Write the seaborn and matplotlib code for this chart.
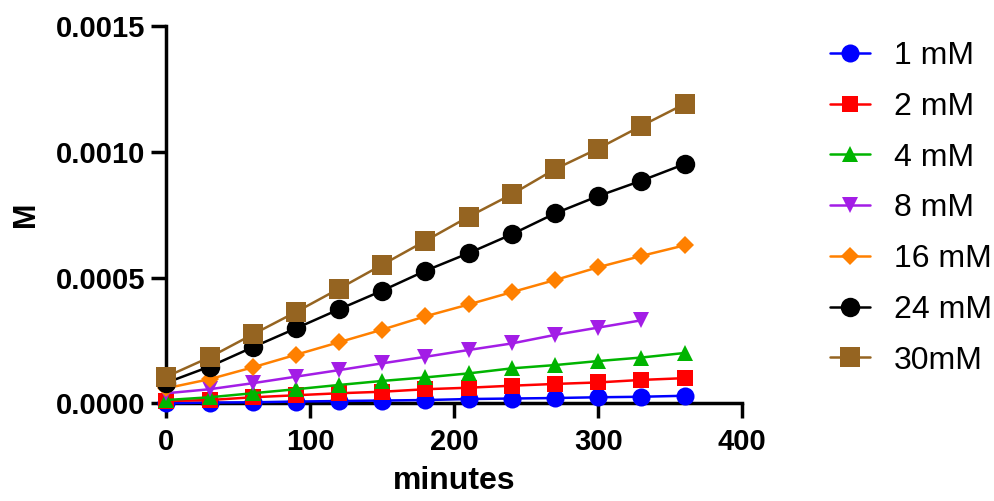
import matplotlib
matplotlib.use("Agg")
import matplotlib.pyplot as plt
import seaborn as sns
import pandas as pd
import numpy as np
from matplotlib.ticker import FormatStrFormatter, MultipleLocator

minutes = [0, 30, 60, 90, 120, 150, 180, 210, 240, 270, 300, 330, 360]

c1 = [0.0, 0.000003, 0.000004, 0.000007, 0.000009, 0.000011, 0.000013, 0.000017, 0.000019, 0.000021, 0.000024, 0.000026, 0.000030]
c2 = [0.000009, 0.000013, 0.000024, 0.000032, 0.000040, 0.000046, 0.000056, 0.000062, 0.000070, 0.000077, 0.000083, 0.000093, 0.000100]
c4 = [0.000013, 0.000024, 0.000040, 0.000056, 0.000073, 0.000089, 0.000103, 0.000119, 0.000139, 0.000152, 0.000168, 0.000182, 0.000200]
c8 = [0.000040, 0.000056, 0.000080, 0.000106, 0.000132, 0.000159, 0.000185, 0.000212, 0.000238, 0.000272, 0.000301, 0.000330]
c16 = [0.000060, 0.000096, 0.000143, 0.000193, 0.000243, 0.000293, 0.000346, 0.000393, 0.000442, 0.000490, 0.000541, 0.000586, 0.000628]
c24 = [0.000082, 0.000146, 0.000223, 0.000298, 0.000374, 0.000448, 0.000527, 0.000597, 0.000672, 0.000755, 0.000824, 0.000885, 0.000951]
c30 = [0.000106, 0.000183, 0.000274, 0.000363, 0.000456, 0.000551, 0.000646, 0.000742, 0.000831, 0.000931, 0.001013, 0.001103, 0.001190]

labels = ["1 mM", "2 mM", "4 mM", "8 mM", "16 mM", "24 mM", "30mM"]
series = [c1, c2, c4, c8, c16, c24, c30]
colors = ["#0000FF", "#FF0000", "#00B400", "#A31DE6", "#FF8000", "#000000", "#956421"]
markers = ["o", "s", "^", "v", "D", "o", "s"]
msizes = [13, 12, 12, 12, 9, 14, 14]

sns.set_style("ticks")
plt.rcParams["font.family"] = ["Liberation Sans", "DejaVu Sans"]
plt.rcParams["text.color"] = "black"
plt.rcParams["axes.labelcolor"] = "black"
plt.rcParams["xtick.color"] = "black"
plt.rcParams["ytick.color"] = "black"

fig = plt.figure(figsize=(9.95, 5.01), dpi=100)
ax = fig.add_axes([0.1673, 0.195, 0.5785, 0.753])

for lab, vals, col, mk, ms in zip(labels, series, colors, markers, msizes):
    df = pd.DataFrame({"minutes": minutes[:len(vals)], "M": vals})
    sns.lineplot(data=df, x="minutes", y="M", ax=ax, color=col, marker=mk,
                 markersize=ms, markeredgewidth=0, linewidth=1.8, label=lab,
                 clip_on=False, zorder=3)

ax.set_xlim(0, 400)
ax.set_ylim(0, 0.0015)
ax.xaxis.set_major_locator(MultipleLocator(100))
ax.yaxis.set_major_locator(MultipleLocator(0.0005))
ax.yaxis.set_major_formatter(FormatStrFormatter("%.4f"))

for s in ["top", "right"]:
    ax.spines[s].set_visible(False)
for s in ["left", "bottom"]:
    ax.spines[s].set_linewidth(2.5)
    ax.spines[s].set_color("black")

ax.tick_params(axis="both", which="major", length=11, width=2.5, color="black",
               labelcolor="black", labelsize=21, direction="out")
ax.tick_params(axis="x", pad=7)
ax.tick_params(axis="y", pad=4)
for t in ax.get_xticklabels() + ax.get_yticklabels():
    t.set_fontweight("bold")

ax.set_xlabel("minutes", fontsize=23, fontweight="bold", labelpad=7, color="black")
ax.set_ylabel("M", fontsize=22, fontweight="bold", labelpad=11, color="black")

leg = ax.legend(loc="upper left", bbox_to_anchor=(0.834, 0.918),
                bbox_transform=fig.transFigure, frameon=False, fontsize=23,
                handlelength=1.25, handletextpad=0.75, labelspacing=0.65,
                borderpad=0, borderaxespad=0)
for t in leg.get_texts():
    t.set_color("black")

fig.savefig("out.png", dpi=100)
